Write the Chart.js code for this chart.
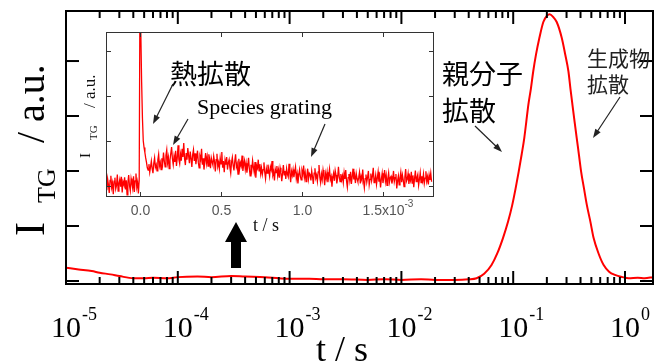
<!DOCTYPE html>
<html>
<head>
<meta charset="utf-8">
<script src="https://cdn.jsdelivr.net/npm/chart.js@4.4.1/dist/chart.umd.min.js"></script>
<style>
  html, body { margin: 0; padding: 0; background: #fff; }
  #wrap { position: relative; width: 655px; height: 363px; }
  #main-chart { position: absolute; left: 0; top: 0; }
  #inset-chart { position: absolute; left: 70px; top: 20px; }
</style>
</head>
<body>
<div id="wrap">
  <canvas id="main-chart" width="655" height="363"></canvas>
  <canvas id="inset-chart" width="380" height="225"></canvas>
</div>
<script>
// main TG signal, time in s (log axis)
const mainTime = [
    1.0e-5, 1.3e-5, 1.7e-5, 2.0e-5, 2.5e-5, 3.0e-5, 4.0e-5, 5.0e-5, 6.0e-5, 8.0e-5,
    1.0e-4, 1.5e-4, 2.0e-4, 3.0e-4, 4.0e-4, 6.0e-4, 8.0e-4, 1.0e-3, 1.5e-3, 2.0e-3,
    3.0e-3, 5.0e-3, 7.0e-3, 1.0e-2, 1.5e-2, 2.0e-2, 3.0e-2, 4.0e-2, 0.047, 0.055,
    0.064, 0.072, 0.081, 0.090, 0.098, 0.105, 0.112, 0.119, 0.1256, 0.131,
    0.1365, 0.144, 0.151, 0.160, 0.171, 0.186, 0.200, 0.212, 0.228, 0.245,
    0.272, 0.292, 0.312, 0.325, 0.339, 0.354, 0.370, 0.387, 0.405, 0.430,
    0.456, 0.490, 0.524, 0.580, 0.644, 0.720, 0.813, 0.950, 1.08, 1.30,
    1.50, 1.78
];
const mainSignal = [
    0.24, 0.21, 0.18, 0.15, 0.12, 0.09, 0.05, 0.05, 0.06, 0.05,
    0.07, 0.08, 0.07, 0.09, 0.08, 0.07, 0.05, 0.04, 0.04, 0.03,
    0.03, 0.02, 0.03, 0.02, 0.03, 0.02, 0.02, 0.03, 0.05, 0.13,
    0.29, 0.50, 0.78, 1.08, 1.38, 1.68, 1.99, 2.30, 2.60, 2.90,
    3.20, 3.50, 3.81, 4.12, 4.41, 4.71, 4.82, 4.85, 4.80, 4.71,
    4.42, 4.12, 3.81, 3.50, 3.20, 2.90, 2.60, 2.30, 1.99, 1.68,
    1.38, 1.08, 0.78, 0.50, 0.29, 0.17, 0.11, 0.07, 0.05, 0.06,
    0.05, 0.07
];
const mainDecades = [-5, -4, -3, -2, -1, 0];
const mainYTicks = [0, 1, 2, 3, 4];

// inset: first 2 ms, time in units of 1e-3 s, sampled every 0.005
const insetStart = -0.21;
const insetStep = 0.005;
const insetSignal = [
    // before the pulse
    0.08, -0.10, 0.15, 0.02, -0.16, 0.12, 0.22, -0.04, 0.06, -0.19, 0.10, 0.18, -0.07, 0.01, 0.25, -0.12, 0.05, 0.14, -0.02, 0.20,
    -0.15, 0.09, 0.03, 0.19, -0.08, 0.12, -0.20, 0.07, 0.24, 0.00, -0.11, 0.16, 0.05, -0.06, 0.21, -0.14, 0.11, 0.27, -0.03, 0.08,
    -0.17, 0.13,
    // thermal spike
    4.60, 3.40, 2.30, 1.50, 1.00, 0.85, 0.74, 0.62, 0.52, 0.40,
    // species grating
    0.35, 0.48, 0.30, 0.42, 0.55, 0.38, 0.28, 0.50, 0.62, 0.41, 0.47, 0.33, 0.58, 0.70, 0.44, 0.52, 0.36, 0.61, 0.49, 0.74,
    0.55, 0.42, 0.68, 0.80, 0.51, 0.63, 0.38, 0.57, 0.72, 0.86, 0.60, 0.47, 0.66, 0.53, 0.78, 0.44, 0.62, 0.90, 0.58, 0.49,
    0.70, 0.56, 0.82, 0.64, 0.95, 0.60, 0.46, 0.73, 0.58, 0.84, 0.67, 0.50, 0.76, 0.61, 0.42, 0.69, 0.80, 0.55, 0.72, 0.48,
    0.63, 0.78, 0.52, 0.40, 0.66, 0.59, 0.82, 0.47, 0.61, 0.36, 0.55, 0.73, 0.50, 0.64, 0.44, 0.70, 0.58, 0.39, 0.62, 0.53,
    0.46, 0.66, 0.54, 0.32, 0.58, 0.71, 0.43, 0.52, 0.38, 0.62, 0.49, 0.75, 0.40, 0.55, 0.30, 0.57, 0.47, 0.64, 0.36, 0.51,
    0.58, 0.40, 0.28, 0.52, 0.63, 0.45, 0.34, 0.55, 0.70, 0.42, 0.49, 0.26, 0.60, 0.38, 0.51, 0.44, 0.67, 0.33, 0.47, 0.56,
    0.36, 0.50, 0.29, 0.44, 0.62, 0.38, 0.22, 0.47, 0.35, 0.56, 0.41, 0.30, 0.53, 0.18, 0.45, 0.39, 0.58, 0.33, 0.48, 0.27,
    0.40, 0.25, 0.36, 0.52, 0.30, 0.16, 0.38, 0.28, 0.47, 0.33, 0.21, 0.42, 0.35, 0.55, 0.24, 0.31, 0.12, 0.37, 0.29, 0.44,
    0.22, 0.35, 0.18, 0.40, 0.30, 0.10, 0.27, 0.46, 0.24, 0.33, 0.15, 0.38, 0.26, 0.20, 0.49, 0.29, 0.08, 0.32, 0.23, 0.36,
    0.19, 0.31, 0.42, 0.16, 0.27, 0.05, 0.24, 0.36, 0.21, 0.13, 0.34, 0.26, 0.45, 0.18, 0.29, 0.09, 0.23, 0.38, 0.15, 0.28,
    0.25, 0.12, 0.33, 0.20, 0.04, 0.28, 0.39, 0.17, 0.24, 0.10, 0.31, 0.46, 0.19, 0.07, 0.26, 0.14, 0.35, 0.22, 0.01, 0.27,
    0.16, 0.30, 0.08, 0.23, 0.37, 0.14, 0.21, -0.02, 0.19, 0.28, 0.11, 0.34, 0.24, 0.05, 0.17, 0.42, 0.20, 0.09, 0.26, 0.13,
    0.22, 0.07, 0.29, 0.15, 0.35, 0.11, -0.03, 0.18, 0.26, 0.12, 0.31, 0.04, 0.20, 0.38, 0.14, 0.23, 0.06, 0.27, 0.16, 0.09,
    0.18, 0.30, 0.05, 0.21, 0.13, 0.36, 0.10, -0.05, 0.16, 0.25, 0.08, 0.19, 0.33, 0.02, 0.14, 0.27, 0.11, 0.22, 0.40, 0.07,
    0.12, 0.24, 0.03, 0.17, 0.31, 0.09, 0.20, -0.04, 0.15, 0.28, 0.06, 0.19, 0.35, 0.10, 0.23, 0.01, 0.16, 0.29, 0.08, 0.18,
    0.21, 0.05, 0.14, 0.33, 0.09, 0.18, 0.26, -0.06, 0.11, 0.22, 0.02, 0.17, 0.30, 0.08, 0.24, 0.13, -0.02, 0.19, 0.37, 0.10,
    0.15, 0.27, 0.04, 0.20, 0.12, 0.31, 0.06, 0.23, -0.03, 0.16, 0.34, 0.09, 0.18, 0.25, 0.01, 0.14, 0.29, 0.07, 0.21, 0.11,
    0.26, 0.05, 0.17, 0.32, 0.10, 0.20, 0.03, 0.24, 0.13, 0.28, 0.09
];
const insetXTicks = [0, 0.5, 1.0, 1.5];
const insetXLabels = ['0.0', '0.5', '1.0', '1.5x10'];
const insetYTicks = [0, 1, 2, 3];

const serif = '"Liberation Serif", "Times New Roman", serif';
const sans = '"Liberation Sans", Arial, sans-serif';
const cjk = '"Noto Sans CJK JP", sans-serif';

function line(ctx, x1, y1, x2, y2) {
    ctx.beginPath();
    ctx.moveTo(x1, y1);
    ctx.lineTo(x2, y2);
    ctx.stroke();
}

function arrow(ctx, x1, y1, x2, y2) {
    const a = Math.atan2(y2 - y1, x2 - x1);
    const len = 9, half = 3.2;
    ctx.lineWidth = 1.2;
    line(ctx, x1, y1, x2 - Math.cos(a) * len * 0.6, y2 - Math.sin(a) * len * 0.6);
    ctx.beginPath();
    ctx.moveTo(x2, y2);
    ctx.lineTo(x2 - Math.cos(a) * len - Math.sin(a) * half, y2 - Math.sin(a) * len + Math.cos(a) * half);
    ctx.lineTo(x2 - Math.cos(a) * len + Math.sin(a) * half, y2 - Math.sin(a) * len - Math.cos(a) * half);
    ctx.closePath();
    ctx.fill();
}

const mainDecor = {
    id: 'mainDecor',
    afterDraw(chart) {
        const ctx = chart.ctx, area = chart.chartArea;
        const xs = chart.scales.x, ys = chart.scales.y;
        ctx.save();
        ctx.strokeStyle = '#000';
        ctx.fillStyle = '#000';
        ctx.lineWidth = 2;
        ctx.strokeRect(area.left, area.top, area.right - area.left, area.bottom - area.top);

        // log ticks, inward, top and bottom
        mainDecades.forEach(e => {
            for (let k = 1; k <= 9; k++) {
                const v = k * Math.pow(10, e);
                if (v > xs.max) break;
                const px = xs.getPixelForValue(v);
                const len = k === 1 ? 13 : 7;
                line(ctx, px, area.bottom, px, area.bottom - len);
                line(ctx, px, area.top, px, area.top + len);
            }
            const px = xs.getPixelForValue(Math.pow(10, e));
            ctx.font = '30px ' + serif;
            ctx.textAlign = 'center';
            ctx.textBaseline = 'alphabetic';
            ctx.fillText('10', px, 337);
            const w = ctx.measureText('10').width;
            ctx.font = '18px ' + serif;
            ctx.textAlign = 'left';
            ctx.fillText(e === 0 ? '0' : '-' + (-e), px + w / 2 + 1, 320);
        });

        mainYTicks.forEach(v => {
            const py = ys.getPixelForValue(v);
            line(ctx, area.left, py, area.left + 13, py);
            line(ctx, area.right, py, area.right - 13, py);
        });

        // axis titles
        ctx.font = '36px ' + serif;
        ctx.textAlign = 'center';
        ctx.fillText('t / s', 342, 361);

        ctx.save();
        ctx.translate(44, 236);
        ctx.rotate(-Math.PI / 2);
        ctx.textAlign = 'left';
        ctx.font = '42px ' + serif;
        ctx.fillText('I', 0, 0);
        ctx.font = '26px ' + serif;
        ctx.fillText('TG', 33, 11);
        ctx.font = '40px ' + serif;
        ctx.fillText('/ a.u.', 93, 0);
        ctx.restore();

        // annotations
        ctx.textAlign = 'left';
        ctx.textBaseline = 'middle';
        ctx.font = '27px ' + cjk;
        ctx.fillText('親分子', 442, 74);
        ctx.fillText('拡散', 442, 111);
        ctx.fillStyle = '#222';
        ctx.font = '21px ' + cjk;
        ctx.fillText('生成物', 587, 58);
        ctx.fillText('拡散', 587, 84);
        ctx.strokeStyle = '#222';
        arrow(ctx, 475, 126, 502, 152);
        arrow(ctx, 620, 97, 593, 138);

        // thick marker arrow under the inset
        ctx.fillStyle = '#000';
        ctx.beginPath();
        ctx.moveTo(236, 222);
        ctx.lineTo(247, 242);
        ctx.lineTo(241, 242);
        ctx.lineTo(241, 268);
        ctx.lineTo(231, 268);
        ctx.lineTo(231, 242);
        ctx.lineTo(225, 242);
        ctx.closePath();
        ctx.fill();
        ctx.restore();
    }
};

const insetLeft = 70, insetTop = 20;

const insetDecor = {
    id: 'insetDecor',
    beforeDraw(chart) {
        const ctx = chart.ctx, area = chart.chartArea;
        ctx.save();
        ctx.fillStyle = '#fff';
        ctx.fillRect(area.left, area.top, area.right - area.left, area.bottom - area.top);
        ctx.restore();
    },
    afterDraw(chart) {
        const ctx = chart.ctx, area = chart.chartArea;
        const xs = chart.scales.x, ys = chart.scales.y;
        ctx.save();
        ctx.strokeStyle = '#333';
        ctx.lineWidth = 1;
        ctx.strokeRect(area.left + 0.5, area.top + 0.5, area.right - area.left - 1, area.bottom - area.top - 1);

        ctx.fillStyle = '#555';
        ctx.textBaseline = 'alphabetic';
        insetXTicks.forEach((v, i) => {
            const px = Math.round(xs.getPixelForValue(v)) + 0.5;
            line(ctx, px, area.bottom, px, area.bottom - 5);
            line(ctx, px, area.top, px, area.top + 5);
            ctx.font = '14px ' + sans;
            ctx.textAlign = 'center';
            ctx.fillText(insetXLabels[i], px, 195);
            if (i === insetXTicks.length - 1) {
                const w = ctx.measureText(insetXLabels[i]).width;
                ctx.font = '10px ' + sans;
                ctx.textAlign = 'left';
                ctx.fillText('-3', px + w / 2, 187);
            }
        });
        insetYTicks.forEach(v => {
            const py = Math.round(ys.getPixelForValue(v)) + 0.5;
            line(ctx, area.left, py, area.left + 5, py);
            line(ctx, area.right, py, area.right - 5, py);
        });

        // page coordinates from here on
        ctx.translate(-insetLeft, -insetTop);
        ctx.fillStyle = '#111';
        ctx.font = '18px ' + serif;
        ctx.textAlign = 'left';
        ctx.fillText('t / s', 253, 231);

        ctx.save();
        ctx.translate(90, 158);
        ctx.rotate(-Math.PI / 2);
        ctx.font = '15px ' + serif;
        ctx.fillText('I', 0, 0);
        ctx.font = '11px ' + serif;
        ctx.fillText('TG', 18, 7);
        ctx.font = '17px ' + serif;
        ctx.fillText('/ a.u.', 50, 5);
        ctx.restore();

        ctx.fillStyle = '#000';
        ctx.font = '27px ' + cjk;
        ctx.textBaseline = 'middle';
        ctx.fillText('熱拡散', 170, 74);
        ctx.font = '22px ' + serif;
        ctx.textBaseline = 'alphabetic';
        ctx.fillText('Species grating', 197, 114);

        ctx.strokeStyle = '#222';
        ctx.fillStyle = '#222';
        arrow(ctx, 173, 84, 153, 124);
        arrow(ctx, 188, 119, 173, 145);
        arrow(ctx, 325, 124, 311, 157);
        ctx.restore();
    }
};

new Chart(document.getElementById('main-chart'), {
    type: 'line',
    data: {
        datasets: [{
            data: mainTime.map((t, i) => ({ x: t, y: mainSignal[i] })),
            borderColor: '#ff0000',
            borderWidth: 2,
            pointRadius: 0,
            cubicInterpolationMode: 'monotone'
        }]
    },
    options: {
        responsive: false,
        animation: false,
        devicePixelRatio: 1,
        layout: { padding: { left: 66, top: 11, right: 2, bottom: 79 } },
        plugins: { legend: { display: false }, tooltip: { enabled: false } },
        scales: {
            x: { type: 'logarithmic', min: 1e-5, max: 1.78, display: false },
            y: { type: 'linear', min: -0.055, max: 4.91, display: false }
        }
    },
    plugins: [mainDecor]
});

new Chart(document.getElementById('inset-chart'), {
    type: 'line',
    data: {
        datasets: [{
            data: insetSignal.map((v, i) => ({ x: insetStart + i * insetStep, y: v })),
            borderColor: '#ff0000',
            borderWidth: 1.3,
            pointRadius: 0
        }]
    },
    options: {
        responsive: false,
        animation: false,
        devicePixelRatio: 1,
        layout: { padding: { left: 36, top: 12, right: 16, bottom: 48 } },
        plugins: { legend: { display: false }, tooltip: { enabled: false } },
        scales: {
            x: { type: 'linear', min: -0.21, max: 1.815, display: false },
            y: { type: 'linear', min: -0.25, max: 3.42, display: false }
        }
    },
    plugins: [insetDecor]
});
</script>
</body>
</html>
